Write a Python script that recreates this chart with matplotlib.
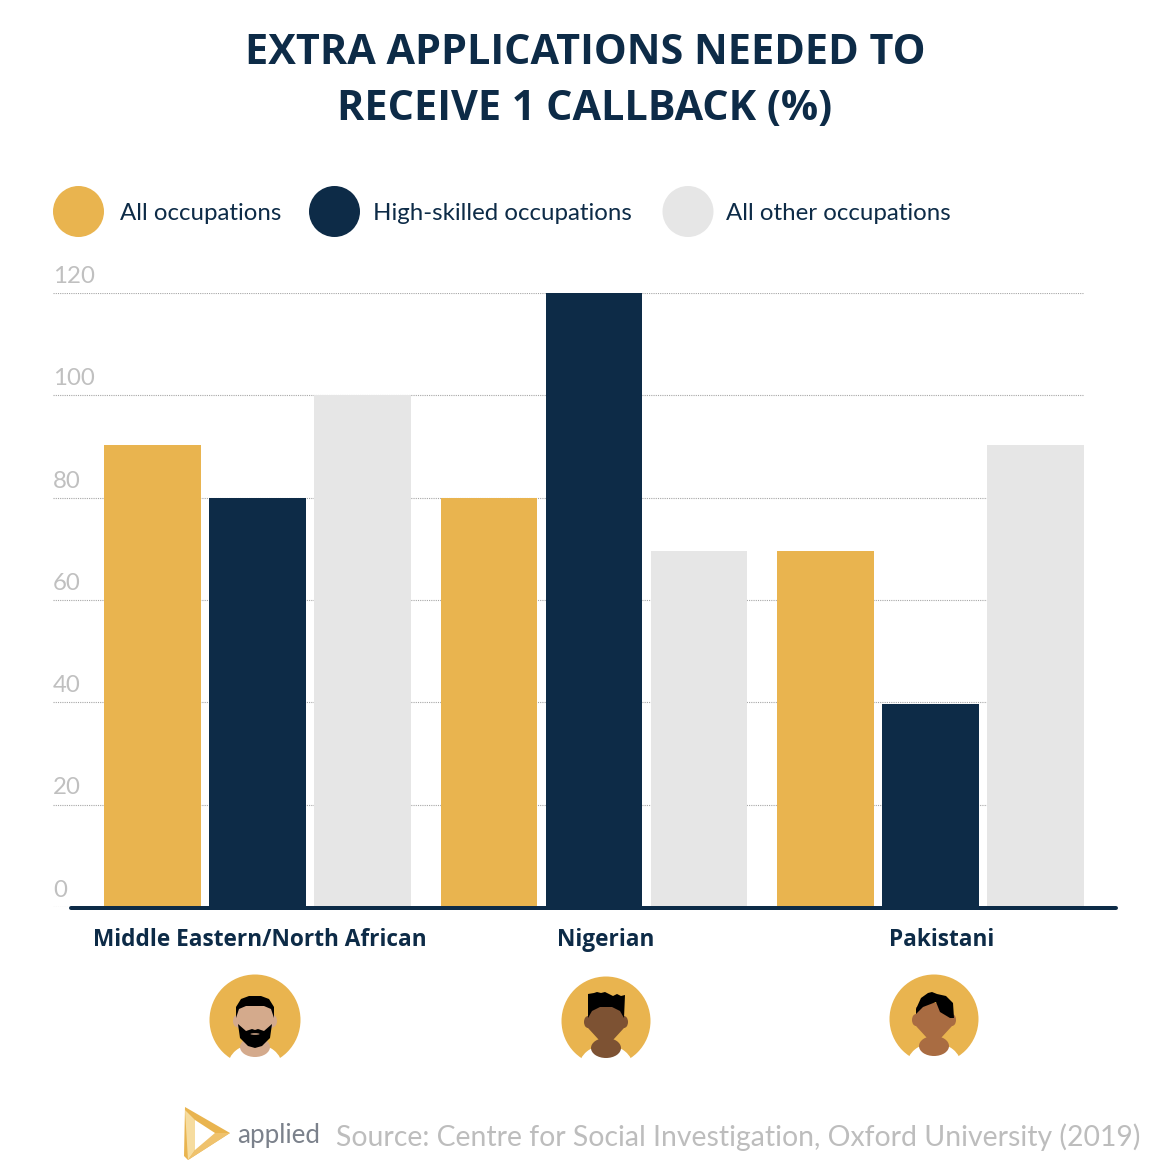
#!/usr/bin/env python3
import numpy as np
from matplotlib import pyplot as plt
from matplotlib.patches import Circle, Ellipse, Polygon

categories = ["Middle Eastern/North African", "Nigerian", "Pakistani"]
series_names = ["All occupations", "High-skilled occupations", "All other occupations"]
all_occupations = [90.2, 80, 69.5]
high_skilled = [80, 120, 39.7]
all_other = [100, 69.5, 90.2]
y_ticks = [0, 20, 40, 60, 80, 100, 120]

NAVY = "#0d2b47"
GOLD = "#e9b44f"
GREY = "#e6e6e6"
SIZE = 1172
HEAD = "Open Sans"
BODY = "Lato"


def px(v):
    # pixels to points
    return v * 0.72


def rel(cx, cy, pts):
    return [(cx + a, cy + b) for a, b in pts]


def avatar(o, cx, cy, r, skin, style):
    o.add_patch(Circle((cx, cy), r, color=GOLD, lw=0))
    o.add_patch(Ellipse((cx, cy + 46), 54, 44, color="white", lw=0, zorder=2))
    # chest, ears, face and neck all in one skin colour
    o.add_patch(Ellipse((cx, cy + 27), 30, 20, color=skin, lw=0, zorder=3))
    o.add_patch(Ellipse((cx - 18, cy + 1), 8, 12, color=skin, lw=0, zorder=3))
    o.add_patch(Ellipse((cx + 18, cy + 1), 8, 12, color=skin, lw=0, zorder=3))
    face = [(-18, -12), (18, -12), (18, 7), (7, 19), (7, 26), (-7, 26), (-7, 19), (-18, 7)]
    o.add_patch(Polygon(rel(cx, cy, face), color=skin, lw=0, zorder=4))
    o.add_patch(Ellipse((cx, cy - 9), 36, 14, color=skin, lw=0, zorder=4))

    if style == "beard":
        hair = [(-19, -2), (-19, -13), (-14, -21), (-6, -24), (6, -24), (14, -21), (19, -13), (19, -2),
                (16, -11), (9, -14), (-9, -14), (-16, -11)]
        beard = [(-17, 4), (-9, 11), (-3, 9), (0, 10), (3, 9), (9, 11), (17, 4), (15, 18),
                 (7, 26), (0, 28), (-7, 26), (-15, 18)]
        o.add_patch(Polygon(rel(cx, cy, hair), color="black", lw=0, zorder=5))
        o.add_patch(Polygon(rel(cx, cy, beard), color="black", lw=0, zorder=5))
        o.add_patch(Ellipse((cx, cy + 14), 9, 1.6, color=skin, lw=0, zorder=6))
    elif style == "flat":
        hair = [(-18, -3), (-18, -27), (-12, -28), (-9, -29), (-5, -28), (-1, -29), (3, -27), (7, -25),
                (11, -27), (15, -25), (19, -26), (18, -3), (14, -10), (6, -14), (-6, -14), (-14, -10)]
        o.add_patch(Polygon(rel(cx, cy, hair), color="black", lw=0, zorder=5))
    else:
        hair = [(-18, -5), (-18, -10), (-13, -21), (-6, -26), (-2, -27), (3, -25), (12, -23), (19, -16),
                (20, -1), (16, -1), (6, -7), (2, -17), (-11, -12)]
        o.add_patch(Polygon(rel(cx, cy, hair), color="black", lw=0, zorder=5))


def draw_logo(o):
    o.add_patch(Polygon([(185, 1107), (230, 1133), (188, 1160), (184, 1156)], color=GOLD, lw=0))
    o.add_patch(Polygon([(185, 1110), (195, 1120), (195, 1150), (188, 1160)], color="#f6dc9f", lw=0))
    o.add_patch(Polygon([(195, 1150), (215, 1133), (230, 1133), (188, 1160)], color="#efc26d", lw=0))
    o.add_patch(Polygon([(195, 1120), (215, 1133), (195, 1150)], color="white", lw=0))
    o.text(237, 1135, "applied", fontsize=px(26), family=BODY, color="#7b818b",
           ha="left", va="center")


def main():
    fig = plt.figure(figsize=(SIZE / 100, SIZE / 100), dpi=100)

    # chart axes, y pixels run from 293 (120) down to 907 (0)
    left, right, top, bottom = 53, 1084, 293, 907
    ax = fig.add_axes([left / SIZE, 1 - bottom / SIZE, (right - left) / SIZE, (bottom - top) / SIZE])
    step = 336.5
    ax.set_xlim((left - 257.5) / step, (right - 257.5) / step)
    ax.set_ylim(0, 120)

    width = 96.5 / step
    offset = 105.2 / step
    x = np.arange(len(categories))
    colors = [GOLD, NAVY, GREY]
    for i, vals in enumerate([all_occupations, high_skilled, all_other]):
        ax.bar(x + (i - 1) * offset, vals, width, color=colors[i], zorder=3)

    ax.set_yticks(y_ticks)
    ax.set_yticklabels([])
    ax.set_xticks([])
    ax.tick_params(length=0)
    ax.grid(axis="y", linestyle=(0, (1, 1)), color="#a6a6a6", linewidth=0.8, zorder=1)
    for s in ax.spines.values():
        s.set_visible(False)
    for t in y_ticks:
        ax.annotate(str(t), (0, t), xycoords=("axes fraction", "data"), xytext=(0, 12),
                    textcoords="offset points", fontsize=px(24), family=BODY,
                    color="#c0c0c0", ha="left", va="center", clip_on=False)

    # overlay in pixel coordinates for title, legend, icons
    o = fig.add_axes([0, 0, 1, 1], facecolor="none")
    o.set_xlim(0, SIZE)
    o.set_ylim(SIZE, 0)
    o.axis("off")

    o.text(585, 53, "EXTRA APPLICATIONS NEEDED TO", fontsize=px(41.4), family=HEAD, weight="bold",
           color=NAVY, ha="center", va="center")
    o.text(585, 109, "RECEIVE 1 CALLBACK (%)", fontsize=px(41.4), family=HEAD, weight="bold",
           color=NAVY, ha="center", va="center")

    legend_x = [78.5, 334.5, 688]
    text_x = [120, 373, 726]
    for name, c, lx, tx in zip(series_names, colors, legend_x, text_x):
        o.add_patch(Circle((lx, 211.5), 25.5, color=c, lw=0))
        o.text(tx, 214, name, fontsize=px(24), family=BODY, color=NAVY, ha="left", va="center")

    o.plot([71, 1116], [907.5, 907.5], color=NAVY, lw=px(4), solid_capstyle="round")

    label_x = [260, 606, 942]
    for name, lx in zip(categories, label_x):
        o.text(lx, 940, name, fontsize=px(22.6), family=HEAD, weight="bold", color=NAVY,
               ha="center", va="center")

    avatar(o, 255, 1020, 45.5, "#d4aa8c", "beard")
    avatar(o, 606, 1021, 44.5, "#7d5233", "flat")
    avatar(o, 934, 1019, 44.5, "#a96c42", "side")
    draw_logo(o)

    o.text(1140, 1137, "Source: Centre for Social Investigation, Oxford University (2019)",
           fontsize=px(28.4), family=BODY, color="#bdbdbd", ha="right", va="center")

    fig.savefig("out.png", dpi=100)


if __name__ == "__main__":
    main()
